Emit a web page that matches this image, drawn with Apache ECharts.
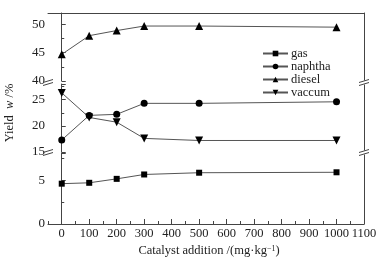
<!DOCTYPE html>
<html>
<head>
<meta charset="utf-8">
<script src="https://cdn.jsdelivr.net/npm/echarts@6/dist/echarts.min.js"></script>
<style>
html, body { margin: 0; padding: 0; background: #fff; }
#chart { width: 388px; height: 260px; }
</style>
</head>
<body>
<div id="chart"></div>
<script>
// data
var catalyst = [0, 100, 200, 300, 500, 1000];
var gas = [4.6, 4.7, 5.15, 5.65, 5.85, 5.9];
var naphtha = [17.3, 22.0, 22.2, 24.3, 24.3, 24.6];
var diesel = [44.7, 48.0, 48.9, 49.7, 49.7, 49.5];
var vaccum = [26.3, 21.6, 20.7, 17.6, 17.2, 17.2];

// broken y axis: three pieces
var topRange = [40, 52];
var midRange = [15, 28];
var lowRange = [0, 8.1];
var xRange = [-50, 1100];
var xLabelRange = [0, 1100];

var chart = echarts.init(document.getElementById('chart'));
var serif = 'Liberation Serif';
var ink = '#222';
var frame = '#444';

var pairs = function (ys) {
    var out = [];
    for (var i = 0; i < catalyst.length; i++) {
        out.push([catalyst[i], ys[i]]);
    }
    return out;
};

// the grids, left edge of label grid sits on x = 0
var gridLeft = 48, gridRight = 24, plotW = 388 - gridLeft - gridRight;
var zeroX = gridLeft + plotW * (0 - xRange[0]) / (xRange[1] - xRange[0]);
var grids = [
    { left: gridLeft, right: gridRight, top: 13, height: 68 },
    { left: gridLeft, right: gridRight, top: 84, height: 68 },
    { left: gridLeft, right: gridRight, top: 153, height: 71 },
    { left: zeroX, right: gridRight, top: 153, height: 71 }
];

var xAxes = [];
for (var g = 0; g < 3; g++) {
    xAxes.push({
        type: 'value', gridIndex: g, min: xRange[0], max: xRange[1], interval: 50,
        position: g === 0 ? 'top' : 'bottom',
        axisLine: { show: g !== 1, lineStyle: { color: frame, width: 1 } },
        axisTick: { show: g === 2, inside: true, length: 3, lineStyle: { color: frame } },
        axisLabel: { show: false },
        splitLine: { show: false }
    });
}
xAxes.push({
    type: 'value', gridIndex: 3, min: xLabelRange[0], max: xLabelRange[1], interval: 100,
    axisLine: { show: false },
    axisTick: { show: true, inside: true, length: 5, lineStyle: { color: frame } },
    axisLabel: {
        color: ink, fontFamily: serif, fontSize: 12.5, margin: 3,
        formatter: function (v) { return String(v); }
    },
    splitLine: { show: false }
});

var ranges = [topRange, midRange, lowRange];
var yAxes = [];
for (var k = 0; k < 3; k++) {
    yAxes.push({
        type: 'value', gridIndex: k, min: ranges[k][0], max: ranges[k][1], interval: 5,
        axisLine: { show: true, lineStyle: { color: frame, width: 1 } },
        axisTick: { inside: true, length: 4, lineStyle: { color: frame } },
        minorTick: { show: true, splitNumber: 2, length: 2.5, lineStyle: { color: frame } },
        axisLabel: {
            color: ink, fontFamily: serif, fontSize: 13, margin: 3,
            formatter: function (v) { return v % 5 === 0 ? String(v) : ''; }
        },
        splitLine: { show: false }
    });
}
for (var r = 0; r < 3; r++) {
    yAxes.push({
        type: 'value', gridIndex: r, position: 'right', min: ranges[r][0], max: ranges[r][1],
        axisLine: { show: true, lineStyle: { color: frame, width: 1 } },
        axisTick: { show: false }, axisLabel: { show: false }, splitLine: { show: false }
    });
}
yAxes.push({ type: 'value', gridIndex: 3, show: false, min: 0, max: 1 });

// break marks on both sides
var breaks = [];
[[gridLeft, 82.5], [gridLeft, 152.5], [388 - gridRight, 82.5], [388 - gridRight, 152.5]].forEach(function (p) {
    breaks.push({
        type: 'rect', shape: { x: p[0] - 1, y: p[1] - 2, width: 2, height: 4 },
        style: { fill: '#fff' }, z: 100
    });
    [-1.5, 1.5].forEach(function (d) {
        breaks.push({
            type: 'line',
            shape: { x1: p[0] - 5, y1: p[1] + 1.5 + d, x2: p[0] + 5, y2: p[1] - 1.5 + d },
            style: { stroke: frame, lineWidth: 1 }, z: 101
        });
    });
});

var option = {
    animation: false,
    backgroundColor: '#fff',
    grid: grids,
    xAxis: xAxes,
    yAxis: yAxes,
    legend: {
        orient: 'vertical', left: 257, top: 42,
        itemWidth: 25, itemHeight: 7, itemGap: 0,
        textStyle: { color: ink, fontFamily: serif, fontSize: 12.5, lineHeight: 12.5, padding: [0, 0, 0, -2] },
        data: ['gas', 'naphtha', 'diesel', 'vaccum']
    },
    graphic: breaks.concat([
        {
            type: 'text', x: 10, y: 113, rotation: Math.PI / 2,
            style: {
                text: '{a|Yield  }{i|w}{a| /%}',
                align: 'center', verticalAlign: 'middle',
                rich: {
                    a: { fontFamily: serif, fontSize: 12.5, fill: ink },
                    i: { fontFamily: serif, fontSize: 12.5, fontStyle: 'italic', fill: ink }
                }
            }
        },
        {
            type: 'text', x: 209, y: 251,
            style: {
                text: '{a|Catalyst addition /(mg·kg}{s|−1}{a|)}',
                align: 'center', verticalAlign: 'middle',
                rich: {
                    a: { fontFamily: serif, fontSize: 12.5, fill: ink },
                    s: { fontFamily: serif, fontSize: 8, fill: ink, verticalAlign: 'top' }
                }
            }
        }
    ]),
    series: [
        {
            name: 'gas', type: 'line', xAxisIndex: 2, yAxisIndex: 2, data: pairs(gas),
            symbol: 'rect', symbolSize: 6, itemStyle: { color: '#000' },
            lineStyle: { color: '#555', width: 1 }
        },
        {
            name: 'naphtha', type: 'line', xAxisIndex: 1, yAxisIndex: 1, data: pairs(naphtha),
            symbol: 'circle', symbolSize: 7, itemStyle: { color: '#000' },
            lineStyle: { color: '#555', width: 1 }
        },
        {
            name: 'diesel', type: 'line', xAxisIndex: 0, yAxisIndex: 0, data: pairs(diesel),
            symbol: 'triangle', symbolSize: 8, itemStyle: { color: '#000' },
            lineStyle: { color: '#555', width: 1 }
        },
        {
            name: 'vaccum', type: 'line', xAxisIndex: 1, yAxisIndex: 1, data: pairs(vaccum),
            symbol: 'triangle', symbolRotate: 180, symbolSize: 8, itemStyle: { color: '#000' },
            lineStyle: { color: '#555', width: 1 }
        }
    ]
};

chart.setOption(option);
</script>
</body>
</html>
